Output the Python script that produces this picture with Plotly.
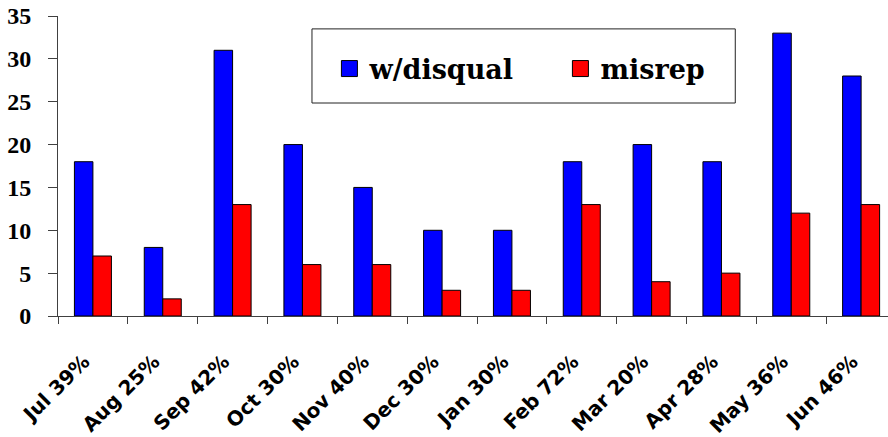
import plotly.graph_objects as go

months = ["Jul 39%", "Aug 25%", "Sep 42%", "Oct 30%", "Nov 40%", "Dec 30%",
          "Jan 30%", "Feb 72%", "Mar 20%", "Apr 28%", "May 36%", "Jun 46%"]
disqual = [18, 8, 31, 20, 15, 10, 10, 18, 20, 18, 33, 28]
misrep = [7, 2, 13, 6, 6, 3, 3, 13, 4, 5, 12, 13]
y_ticks = [0, 5, 10, 15, 20, 25, 30, 35]

series = [("w/disqual", disqual, "#0000FF"), ("misrep", misrep, "#FF0000")]

serif = "DejaVu Serif"
sans = "DejaVu Sans"

fig = go.Figure()
for name, values, color in series:
    fig.add_trace(go.Bar(
        x=months, y=values, name=name, showlegend=False,
        marker=dict(color=color, line=dict(color="black", width=1)),
    ))
# legend entries with bigger square swatches than the bar default
for name, values, color in series:
    fig.add_trace(go.Scatter(
        x=[None], y=[None], mode="markers", name=name,
        marker=dict(symbol="square", size=16, color=color,
                    line=dict(color="black", width=1)),
    ))

# box around the legend
fig.add_shape(type="rect", xref="paper", yref="paper",
              x0=0.306, x1=0.816, y0=0.71, y1=0.957,
              line=dict(color="#222222", width=1), fillcolor="white", layer="below")

fig.update_layout(
    width=888, height=437,
    margin=dict(l=58, r=0, t=16, b=121, autoexpand=False),
    plot_bgcolor="white", paper_bgcolor="white",
    barmode="group", bargap=0.47, bargroupgap=0,
    showlegend=True,
    legend=dict(
        orientation="h", itemsizing="trace",
        x=0.327, y=0.905, xanchor="left", yanchor="top",
        font=dict(family=serif, size=27, color="black", weight="bold"),
        bgcolor="rgba(0,0,0,0)", entrywidth=186, itemwidth=30,
    ),
    xaxis=dict(
        range=[-0.5, 11.385], automargin=False,
        showline=True, linecolor="#404040", linewidth=1,
        ticks="outside", tickson="boundaries", ticklen=7, tickcolor="#404040",
        tickangle=-45, ticklabelstandoff=25, ticklabelshift=-9,
        ticklabeloverflow="allow",
        tickfont=dict(family=sans, size=20, color="black", weight="bold"),
        showgrid=False, zeroline=False,
    ),
    yaxis=dict(
        range=[0, 35], tickvals=y_ticks, automargin=False,
        showline=True, linecolor="#404040", linewidth=1,
        ticks="outside", ticklen=9, tickcolor="#404040", ticklabelstandoff=12,
        ticklabeloverflow="allow",
        tickfont=dict(family="Liberation Serif", size=24, color="black", weight="bold"),
        showgrid=False, zeroline=False,
    ),
)

# drop the default body margin so the figure fills the window exactly
fig.write_html("out.html", config={"displayModeBar": False},
               post_script="document.body.style.margin='0';")
